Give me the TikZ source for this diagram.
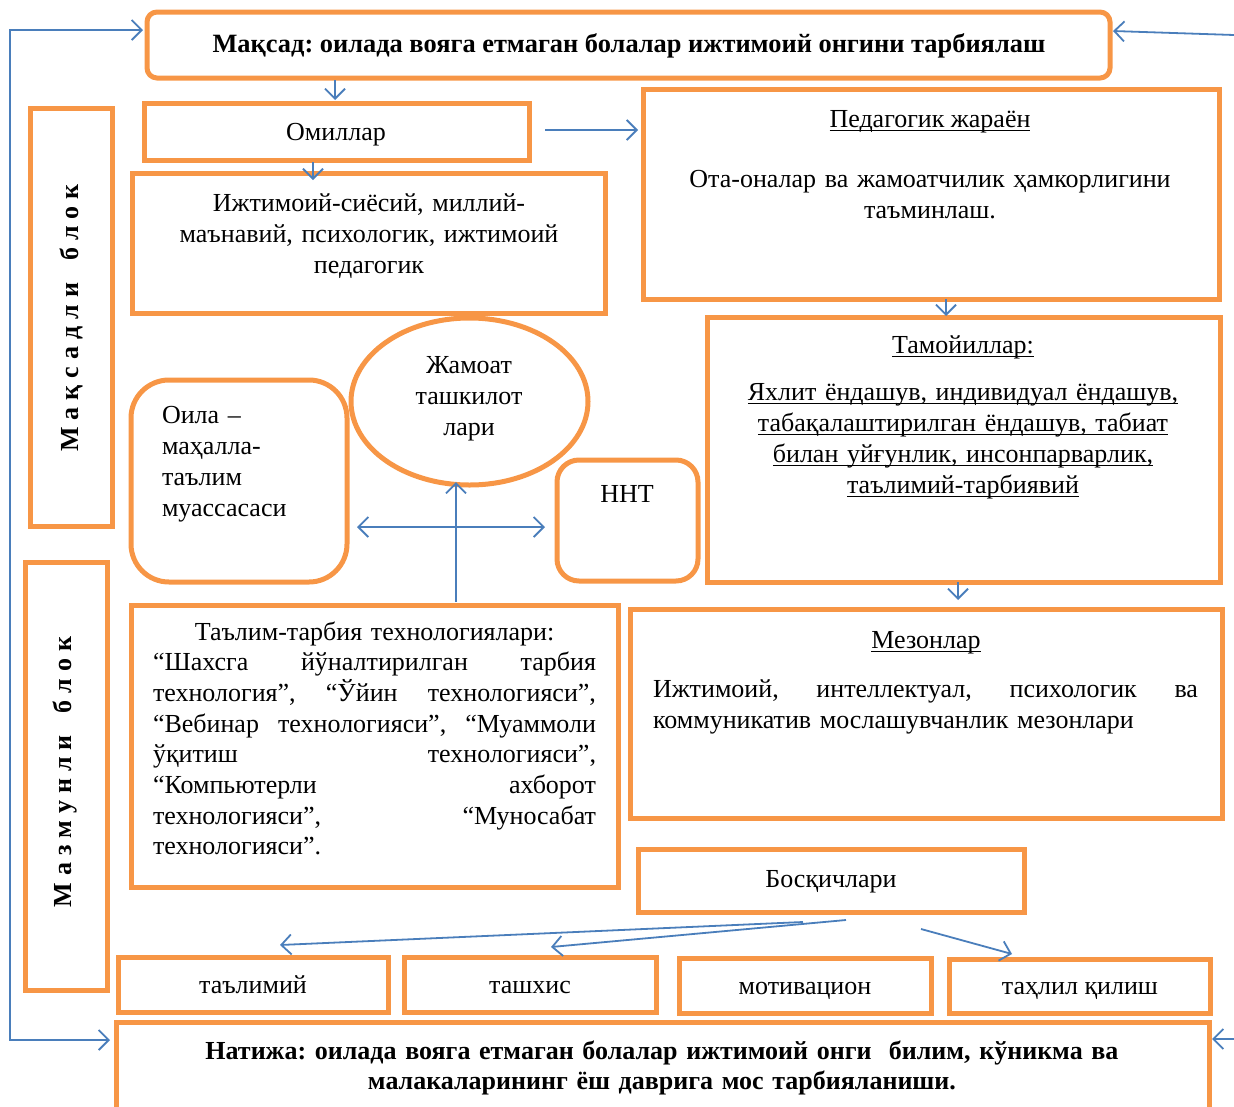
\documentclass[tikz,border=0pt]{standalone}
\usepackage{fontspec}
\setmainfont{Liberation Serif}
\usetikzlibrary{arrows.meta,shapes.geometric,calc}
\definecolor{org}{HTML}{F79646}
\definecolor{blu}{HTML}{4A7EBB}
\newcommand\tfont{\fontsize{26}{31}\selectfont\frenchspacing}
\newcommand\myul[1]{\leavevmode\setbox0\hbox{#1}\rlap{\rule[-4pt]{\wd0}{1.4pt}}\box0}
\newcommand\jl[2]{\leavevmode\hbox to #1{\frenchspacing\spaceskip=.25em plus 1fil\relax #2}}
\newcommand\cl[2]{\leavevmode\hbox to #1{\hfil #2\hfil}}
\newcommand\lsp{\hspace{7pt}}
\newcommand\wsp{\hspace{22pt}}
\tikzset{
  obox/.style={draw=org, line width=5pt, inner sep=0pt, outer sep=0pt},
  tx/.style={font=\tfont, anchor=base, inner sep=0pt, outer sep=0pt},
  arr/.style={draw=blu, line width=1.8pt, -{Straight Barb[length=10pt,width=20pt]}},
  arr2/.style={draw=blu, line width=1.8pt, {Straight Barb[length=10pt,width=20pt]}-{Straight Barb[length=10pt,width=20pt]}},
}
\begin{document}
\begin{tikzpicture}[x=1pt,y=-1pt]
\useasboundingbox (0,0) rectangle (1234,1106);
\clip (0,0) rectangle (1234,1106);
% boxes
\node[obox, rounded corners=10pt, minimum width=963pt, minimum height=66pt] (maksad) at (628.5,45) {};
\node[obox, minimum width=385pt, minimum height=57pt] (omil) at (336.5,131.5) {};
\node[obox, minimum width=473pt, minimum height=140pt] (ijt) at (368.5,243) {};
\node[obox, minimum width=576pt, minimum height=210pt] (ped) at (931,194) {};
\node[obox, minimum width=513pt, minimum height=265pt] (tam) at (963.5,449.5) {};
\node[obox, minimum width=592pt, minimum height=209pt] (mez) at (926,713.5) {};
\node[obox, minimum width=82pt, minimum height=418pt] (bm) at (71,317) {};
\node[obox, minimum width=82pt, minimum height=428pt] (bz) at (66,776) {};
\node[obox, rounded corners=38pt, minimum width=216pt, minimum height=202pt] (oila) at (239,481) {};
\node[obox, ellipse, minimum width=237pt, minimum height=167pt] (jam) at (469.5,401.5) {};
\node[obox, rounded corners=22pt, minimum width=141pt, minimum height=121pt] (nnt) at (627.5,520.5) {};
\node[obox, minimum width=487pt, minimum height=282pt] (talim) at (374.5,746) {};
\node[obox, minimum width=386pt, minimum height=63pt] (bosq) at (831,880.5) {};
\node[obox, minimum width=270pt, minimum height=55pt] (t1) at (253,984.5) {};
\node[obox, minimum width=252pt, minimum height=55pt] (t2) at (530,984.5) {};
\node[obox, minimum width=252pt, minimum height=55pt] (t3) at (805,985.5) {};
\node[obox, minimum width=261pt, minimum height=54pt] (t4) at (1079.5,986) {};
\node[obox, minimum width=1093pt, minimum height=93pt] (natija) at (662.5,1068.5) {};
% texts
\node[tx, font=\fontsize{26.4}{31}\selectfont\frenchspacing\bfseries] (maksadT) at (629,52) {Мақсад: оилада вояга етмаган болалар ижтимоий онгини тарбиялаш};
\node[tx] (omilT) at (336,140) {Омиллар};
\node[tx, text width=460pt, align=center] (ijtT) at (369,211) {Ижтимоий-сиёсий, миллий-\\маънавий, психологик, ижтимоий\\педагогик};
\node[tx] (pedH) at (930,127) {\myul{Педагогик жараён}};
\node[tx, text width=560pt, align=center] (pedT) at (930,187) {Ота-оналар ва жамоатчилик ҳамкорлигини\\таъминлаш.};
\node[tx] (tamH) at (963,353) {\myul{Тамойиллар:}};
\node[tx, text width=500pt, align=center] (tamT) at (963,400) {\myul{Яхлит ёндашув, индивидуал ёндашув,}\\\myul{табақалаштирилган ёндашув, табиат}\\\myul{билан уйғунлик, инсонпарварлик,}\\\myul{таълимий-тарбиявий}};
\node[tx] (mezH) at (926,648) {\myul{Мезонлар}};
\node[tx, anchor=base west, text width=545pt, align=left] (mezT) at (653,697) {\jl{545pt}{Ижтимоий, интеллектуал, психологик ва}\\коммуникатив мослашувчанлик мезонлари};
\node[tx, anchor=base west, text width=180pt, align=left] (oilaT) at (162,423) {Оила –\\маҳалла-\\таълим\\муассасаси};
\node[tx, text width=200pt, align=center] (jamT) at (469,373) {Жамоат\\ташкилот\\лари};
\node[tx] (nntT) at (627,502) {ННТ};
\node[tx, anchor=base west, text width=443pt, align=left, font=\fontsize{26}{30.7}\selectfont\frenchspacing] (talimT) at (153,640) {\cl{443pt}{Таълим-тарбия технологиялари:}\\
\jl{443pt}{“Шахсга йўналтирилган тарбия}\\
\jl{443pt}{технология”, “Ўйин технологияси”,}\\
\jl{443pt}{“Вебинар технологияси”, “Муаммоли}\\
\jl{443pt}{ўқитиш технологияси”,}\\
\jl{443pt}{“Компьютерли ахборот}\\
\jl{443pt}{технологияси”, “Муносабат}\\
технологияси”.};
\node[tx] (bosqT) at (831,887) {Босқичлари};
\node[tx] (t1T) at (253,993) {таълимий};
\node[tx] (t2T) at (530,993) {ташхис};
\node[tx] (t3T) at (805,994) {мотивацион};
\node[tx] (t4T) at (1080,994) {таҳлил қилиш};
\node[tx, text width=1060pt, align=center, font=\fontsize{26}{30}\selectfont\frenchspacing\bfseries] (natijaT) at (662,1059) {Натижа: оилада вояга етмаган болалар ижтимоий онги\ \ билим, кўникма ва\\малакаларининг ёш даврига мос тарбияланиши.};
\node[rotate=90, font=\tfont\bfseries, inner sep=0pt] (bmT) at (71,318) {М\lsp а\lsp қ\lsp с\lsp а\lsp д\lsp л\lsp и\wsp б\lsp л\lsp о\lsp к};
\node[rotate=90, font=\tfont\bfseries, inner sep=0pt] (bzT) at (65,772) {М\lsp а\lsp з\lsp м\lsp у\lsp н\lsp л\lsp и\wsp б\lsp л\lsp о\lsp к};
% connectors
\coordinate (rt) at (1234,35);
\coordinate (rb) at (1234,1039);
\draw[arr] ($(maksad.south -| omil.north)+(-1.5,2)$) -- ($(omil.north)+(-1.5,-3)$);
\draw[arr] ($(omil.south)+(-23.5,2)$) -- ($(ijt.north)+(-55.5,7)$);
\draw[arr] ($(omil.east)+(16,-1.5)$) -- ($(ped.west)+(-5,-64)$);
\draw[arr] ($(ped.south)+(15,0)$) -- ($(tam.north)+(-17.5,-1)$);
\draw[arr] ($(tam.south)+(-5.5,0)$) -- ($(mez.north)+(32,-9)$);
\draw[arr2] ($(oila.east)+(10,46)$) -- ($(nnt.west)+(-12,6.5)$);
\draw[arr] ($(talim.north)+(81.5,-3)$) -- ($(jam.south)+(-13.5,-3)$);
\draw[arr2] ($(maksad.west)+(-4,-15)$) -| ($(natija.west)+(-106,-28.5)$) -- ($(natija.west)+(-6,-28.5)$);
\draw[arr] (rt) -- ($(maksad.east)+(3,-14)$);
\draw[arr] (rb) -- ($(natija.east)+(3,-29.5)$);
\draw[arr] ($(bosq.south)+(-28,10)$) -- ($(t1.north)+(27,-12)$);
\draw[arr] ($(bosq.south)+(15,8)$) -- ($(t2.north)+(21,-10)$);
\draw[arr] ($(bosq.south)+(90,17)$) -- ($(t4.north)+(-67.5,-5)$);
\end{tikzpicture}
\end{document}
